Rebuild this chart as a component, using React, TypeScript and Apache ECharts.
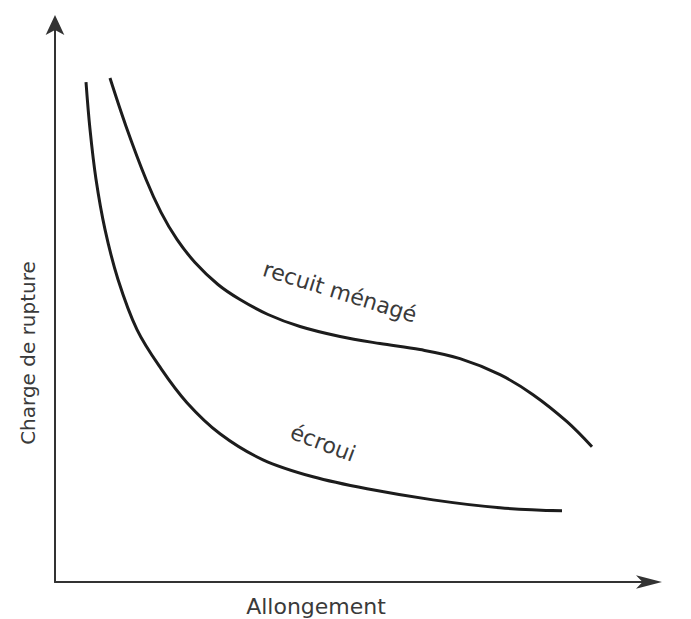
import React, { useEffect, useRef } from "react";
import * as echarts from "echarts";

// Allongement (x) / Charge de rupture (y), arbitrary units 0–100
const ecrouiX = [5.21, 5.88, 6.89, 8.4, 10.59, 13.78, 17.82, 22.18, 27.73, 34.96, 43.36, 52.44, 63.53, 74.79, 85.21];
const ecrouiY = [89.59, 81.15, 72.17, 63.2, 54.22, 45.24, 38.24, 32.14, 26.57, 21.9, 18.85, 16.7, 14.72, 13.29, 12.75];

const recuitX = [9.24, 11.93, 15.29, 17.82, 20.5, 23.53, 27.39, 31.09, 35.8, 41.18, 47.9, 54.62, 61.34, 68.07, 74.79, 80.34, 86.05, 90.25];
const recuitY = [90.31, 81.69, 72.17, 66.25, 61.4, 57.27, 53.32, 50.63, 47.94, 45.78, 43.99, 42.73, 41.65, 40.04, 37.16, 33.57, 28.73, 24.24];

const seriesNames = ["écroui", "recuit ménagé"];
const xTitle = "Allongement";
const yTitle = "Charge de rupture";

const zip = (xs: number[], ys: number[]) => xs.map((x, i) => [x, ys[i]]);

export default function App() {
  const ref = useRef<HTMLDivElement>(null);
  useEffect(() => {
    if (!ref.current) return;
    const chart = echarts.init(ref.current, null, { renderer: "svg" });
    const font = "DejaVu Sans";
    chart.setOption({
      animation: false,
      backgroundColor: "#ffffff",
      grid: { left: 55, right: 41, top: 24, bottom: 37 },
      xAxis: {
        type: "value",
        min: 0,
        max: 100,
        axisLine: {
          show: true,
          symbol: ["none", "arrow"],
          symbolSize: [10, 26],
          symbolOffset: [0, 12],
          lineStyle: { color: "#333", width: 2 },
        },
        axisTick: { show: false },
        axisLabel: { show: false },
        splitLine: { show: false },
      },
      yAxis: {
        type: "value",
        min: 0,
        max: 100,
        axisLine: {
          show: true,
          symbol: ["none", "arrow"],
          symbolSize: [14, 20],
          symbolOffset: [0, 9],
          lineStyle: { color: "#333", width: 2 },
        },
        axisTick: { show: false },
        axisLabel: { show: false },
        splitLine: { show: false },
      },
      series: [
        {
          name: seriesNames[0],
          type: "line",
          data: zip(ecrouiX, ecrouiY),
          smooth: 0.35,
          showSymbol: false,
          lineStyle: { color: "#1c1c1c", width: 3 },
        },
        {
          name: seriesNames[1],
          type: "line",
          data: zip(recuitX, recuitY),
          smooth: 0.35,
          showSymbol: false,
          lineStyle: { color: "#1c1c1c", width: 3 },
        },
      ],
      graphic: [
        {
          type: "text",
          x: 28,
          y: 353,
          rotation: Math.PI / 2,
          style: {
            text: yTitle,
            fontFamily: font,
            fontSize: 20,
            fill: "#3a3a3a",
            align: "center",
            verticalAlign: "middle",
          },
        },
        {
          type: "text",
          x: 316,
          y: 606,
          style: {
            text: xTitle,
            fontFamily: font,
            fontSize: 22,
            fill: "#3a3a3a",
            align: "center",
            verticalAlign: "middle",
          },
        },
        {
          type: "text",
          x: 340,
          y: 292,
          rotation: -0.3,
          style: {
            text: seriesNames[1],
            fontFamily: font,
            fontSize: 22,
            fill: "#3a3a3a",
            align: "center",
            verticalAlign: "middle",
          },
        },
        {
          type: "text",
          x: 323,
          y: 443,
          rotation: -0.36,
          style: {
            text: seriesNames[0],
            fontFamily: font,
            fontSize: 22,
            fill: "#3a3a3a",
            align: "center",
            verticalAlign: "middle",
          },
        },
      ],
    });
    return () => chart.dispose();
  }, []);
  return <div ref={ref} style={{ width: 691, height: 619, position: "absolute", left: 0, top: 0 }} />;
}
